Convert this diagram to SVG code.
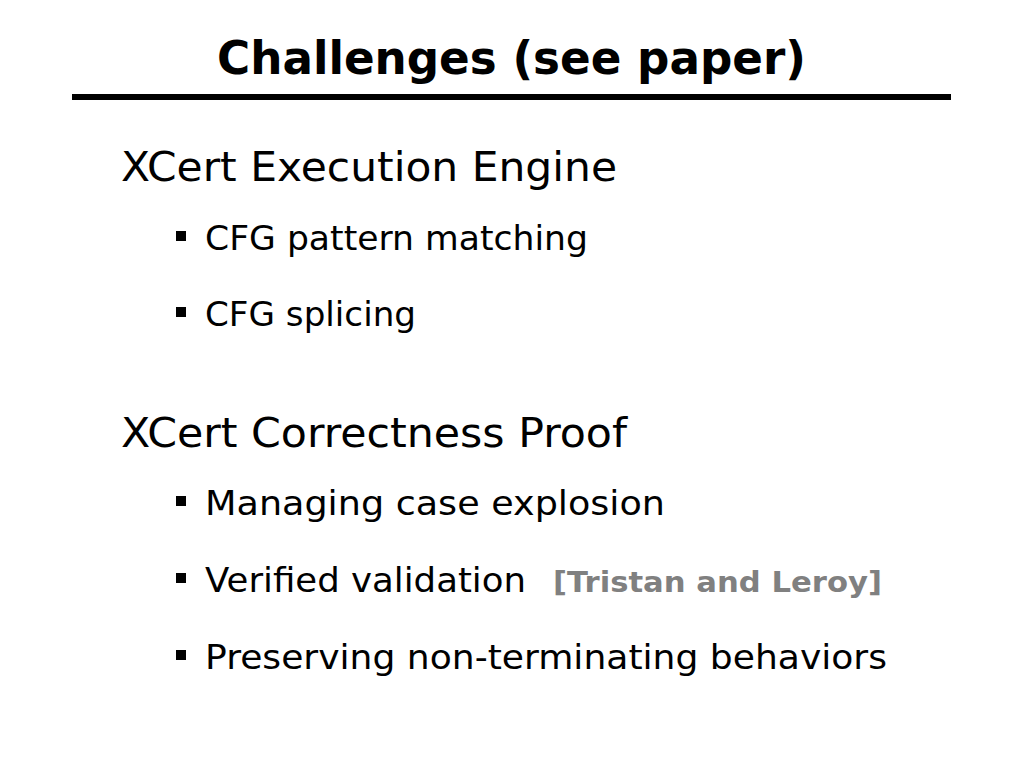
<svg xmlns="http://www.w3.org/2000/svg" width="1024" height="768" viewBox="0 0 1024 768" xml:space="preserve">
<style>
text{font-family:"DejaVu Sans",Verdana,sans-serif;fill:#000}
.t{font-size:46px;font-weight:bold}
.h{font-size:40px}
.b{font-size:34px}
.r{font-size:28px;font-weight:bold;fill:#808080}
</style>
<rect width="1024" height="768" fill="#fff"/>
<text class="t" x="217" y="74" textLength="589" lengthAdjust="spacingAndGlyphs">Challenges (see paper)</text>
<rect x="72" y="94" width="879" height="6" fill="#000"/>
<text class="h" x="121" y="181" textLength="496" lengthAdjust="spacingAndGlyphs">XCert  Execution  Engine</text>
<text class="h" x="121" y="447" textLength="506" lengthAdjust="spacingAndGlyphs">XCert  Correctness  Proof</text>
<g fill="#000">
<rect x="176" y="231" width="10" height="10"/>
<rect x="176" y="307" width="10" height="10"/>
<rect x="176" y="496" width="10" height="10"/>
<rect x="176" y="573" width="10" height="10"/>
<rect x="176" y="650" width="10" height="10"/>
</g>
<text class="b" x="205" y="250" textLength="383" lengthAdjust="spacingAndGlyphs">CFG pattern matching</text>
<text class="b" x="205" y="326" textLength="211" lengthAdjust="spacingAndGlyphs">CFG splicing</text>
<text class="b" x="205" y="515" textLength="460" lengthAdjust="spacingAndGlyphs">Managing  case  explosion</text>
<text class="b" x="205" y="592" textLength="321" lengthAdjust="spacingAndGlyphs">Verified  validation</text>
<text class="r" x="553" y="592" textLength="329" lengthAdjust="spacingAndGlyphs">[Tristan and Leroy]</text>
<text class="b" x="205" y="669" textLength="682" lengthAdjust="spacingAndGlyphs">Preserving  non-terminating  behaviors</text>
</svg>
